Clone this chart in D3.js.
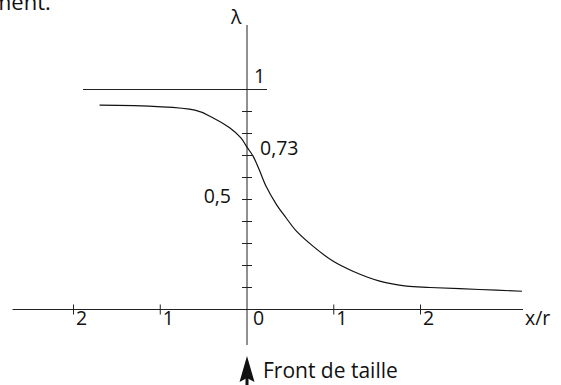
<!DOCTYPE html>
<html>
<head>
<meta charset="utf-8">
<script src="https://cdn.jsdelivr.net/npm/d3@7"></script>
<style>
  html, body { margin: 0; padding: 0; background: #fff; }
  svg { display: block; }
  text { font-family: "Open Sans", "Liberation Sans", sans-serif; fill: #111; font-size: 19.5px; }
</style>
</head>
<body>
<svg id="chart" width="561" height="385"></svg>
<script>
// curve lambda(x/r)
const curveX = [-1.70, -0.60, -0.40, -0.20, -0.07, 0.00, 0.07, 0.14, 0.22, 0.34, 0.45, 0.57, 0.76, 0.99, 1.22, 1.53, 1.84, 2.11, 2.68, 3.17];
const curveL = [0.929, 0.906, 0.873, 0.826, 0.780, 0.738, 0.697, 0.636, 0.560, 0.477, 0.417, 0.356, 0.288, 0.220, 0.174, 0.129, 0.106, 0.100, 0.091, 0.083];

const xTicks = [-2, -1, 0, 1, 2];
const xTickLabels = ["2", "1", "0", "1", "2"];
const yTicks = [0.1, 0.2, 0.3, 0.4, 0.5, 0.6, 0.7, 0.8, 0.9];
const yLabelValues = [0.5, 1];
const yLabels = ["0,5", "1"];
const markValue = 0.73;
const markLabel = "0,73";

const svg = d3.select("#chart");

const x = d3.scaleLinear().domain([-2, 2]).range([73.5, 420.5]);
const y = d3.scaleLinear().domain([0, 1]).range([309.5, 89.5]);

const ink = "#222";

// top remnant of the previous paragraph
svg.append("text").attr("x", -9).attr("y", 10).style("font-size", "22px").text("ment.");

// x axis
svg.append("line")
  .attr("x1", 12.5).attr("x2", 523)
  .attr("y1", y(0)).attr("y2", y(0))
  .attr("stroke", ink);

// y axis
svg.append("line")
  .attr("x1", x(0)).attr("x2", x(0))
  .attr("y1", 25).attr("y2", 345)
  .attr("stroke", ink);

// lambda = 1 line
svg.append("line")
  .attr("x1", 83).attr("x2", 267)
  .attr("y1", y(1)).attr("y2", y(1))
  .attr("stroke", ink);

// x ticks
svg.selectAll(".xt").data(xTicks.filter(d => d !== 0)).enter().append("line")
  .attr("x1", d => x(d)).attr("x2", d => x(d))
  .attr("y1", y(0) - 5).attr("y2", y(0) + 5)
  .attr("stroke", ink);

svg.selectAll(".xl").data(xTicks).enter().append("text")
  .attr("x", d => x(d) + (d === 0 ? 6 : 2.5))
  .attr("y", 325)
  .text((d, i) => xTickLabels[i]);

svg.append("text").attr("x", 525).attr("y", 325).text("x/r");

// y ticks
svg.selectAll(".yt").data(yTicks).enter().append("line")
  .attr("x1", x(0) - 5).attr("x2", x(0) + 5)
  .attr("y1", d => y(d)).attr("y2", d => y(d))
  .attr("stroke", ink);

svg.append("text")
  .attr("x", x(0) - 16).attr("y", y(yLabelValues[0]) + 3)
  .attr("text-anchor", "end")
  .text(yLabels[0]);

svg.append("text")
  .attr("x", x(0) + 7).attr("y", 83)
  .text(yLabels[1]);

svg.append("text")
  .attr("x", x(0) + 13).attr("y", y(markValue) + 6)
  .text(markLabel);

svg.append("text")
  .attr("x", x(0) - 16).attr("y", 24)
  .text("λ");

// curve
const pts = curveX.map((d, i) => [d, curveL[i]]);
svg.append("path")
  .datum(pts)
  .attr("fill", "none")
  .attr("stroke", "#111")
  .attr("stroke-width", 1.2)
  .attr("d", d3.line().x(d => x(d[0])).y(d => y(d[1])).curve(d3.curveCatmullRom.alpha(0.5)));

// arrow: front de taille
const ax = x(0);
svg.append("path")
  .attr("d", `M${ax},356 L${ax + 7.5},382 L${ax},378 L${ax - 7.5},382 Z`)
  .attr("fill", "#111");
svg.append("rect")
  .attr("x", ax - 1.5).attr("y", 377).attr("width", 3).attr("height", 10)
  .attr("fill", "#111");

svg.append("text")
  .attr("x", 263).attr("y", 378)
  .style("font-size", "21px")
  .text("Front de taille");
</script>
</body>
</html>
